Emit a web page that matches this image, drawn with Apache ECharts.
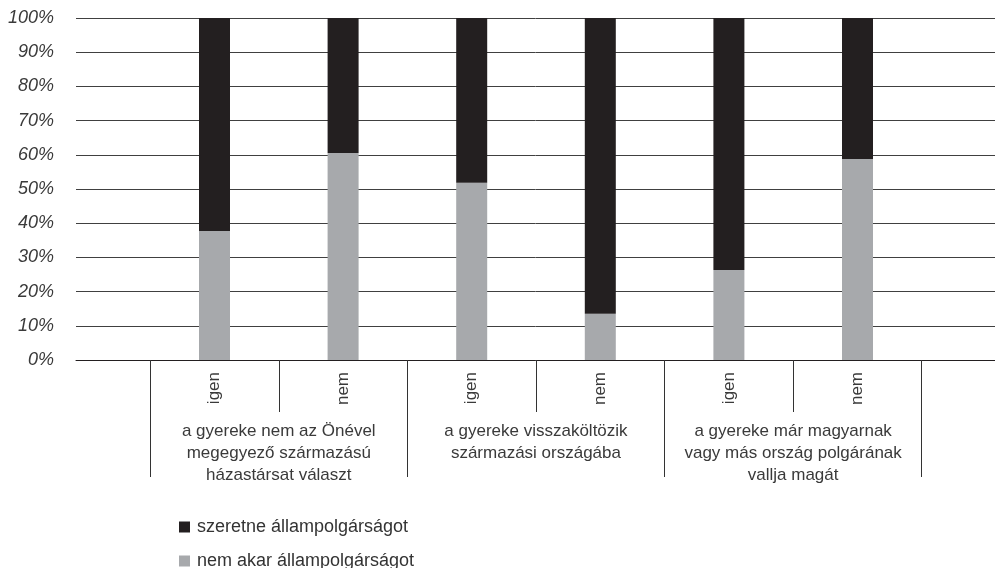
<!DOCTYPE html>
<html>
<head>
<meta charset="utf-8">
<script src="https://cdn.jsdelivr.net/npm/echarts@6/dist/echarts.min.js"></script>
<style>html,body{margin:0;padding:0;background:#fff}#c{width:995px;height:568px}</style>
</head>
<body>
<div id="c"></div>
<script>
// Data
var subCategories = ['igen', 'nem', 'igen', 'nem', 'igen', 'nem'];
var groupLabels = [
  'a gyereke nem az Önével\nmegegyező származású\nházastársat választ',
  'a gyereke visszaköltözik\nszármazási országába',
  'a gyereke már magyarnak\nvagy más ország polgárának\nvallja magát'
];
var seriesNames = ['szeretne állampolgárságot', 'nem akar állampolgárságot'];
var nemAkar = [37.7, 60.5, 51.8, 13.5, 26.3, 58.8];
var szeretne = [62.3, 39.5, 48.2, 86.5, 73.7, 41.2];
var yTicks = [0, 10, 20, 30, 40, 50, 60, 70, 80, 90, 100];

var positions = subCategories.map(function (_, i) { return i + 1; });
var groupCenters = [1.5, 3.5, 5.5];
var groupBounds = [0.5, 2.5, 4.5, 6.5];
var catIds = subCategories.map(function (c, i) { return c + '_' + i; });

var chart = echarts.init(document.getElementById('c'), null, { renderer: 'canvas' });
var font = 'Liberation Sans';
var option = {
  animation: false,
  textStyle: { fontFamily: font },
  grid: [
    { left: 76, right: 0, top: 18, bottom: 208, containLabel: false },
    { left: 150.2, right: 73.2, top: 18, bottom: 208, containLabel: false }
  ],
  legend: {
    orient: 'vertical',
    left: 179,
    top: 518,
    height: 80,
    padding: 0,
    itemWidth: 11,
    itemHeight: 11,
    itemGap: 16,
    icon: 'rect',
    data: [seriesNames[0], seriesNames[1]],
    textStyle: { fontSize: 18, color: '#333', fontFamily: font, padding: [0, 0, 0, 2] }
  },
  xAxis: [
    {
      type: 'value', gridIndex: 0, min: -0.077, max: 7.07, position: 'bottom',
      axisLine: { show: true, lineStyle: { color: '#231f20', width: 1 } },
      axisTick: { show: true, customValues: groupBounds, length: 117, lineStyle: { color: '#333', width: 1 } },
      axisLabel: {
        show: true, customValues: positions, rotate: 90, margin: 12,
        fontSize: 17, color: '#3a3a3a', fontFamily: font,
        formatter: function (v) { return subCategories[Math.round(v) - 1] || ''; }
      },
      splitLine: { show: false }
    },
    {
      type: 'value', gridIndex: 0, min: -0.077, max: 7.07, position: 'bottom',
      axisLine: { show: false },
      axisTick: { show: true, customValues: groupCenters, length: 52, lineStyle: { color: '#333', width: 1 } },
      axisLabel: {
        show: true, customValues: groupCenters, margin: 60, lineHeight: 22,
        fontSize: 17, color: '#3a3a3a', fontFamily: font, align: 'center',
        formatter: function (v) { return groupLabels[Math.round((v - 1.5) / 2)] || ''; }
      },
      splitLine: { show: false }
    },
    {
      type: 'category', gridIndex: 1, data: catIds, boundaryGap: true,
      axisLine: { show: false }, axisTick: { show: false }, axisLabel: { show: false },
      splitLine: { show: false }
    }
  ],
  yAxis: [
    {
      type: 'value', gridIndex: 0, min: yTicks[0], max: yTicks[yTicks.length - 1], interval: 10,
      axisLine: { show: false }, axisTick: { show: false },
      axisLabel: { formatter: '{value}%', fontSize: 18, fontStyle: 'italic', color: '#3a3a3a', margin: 22, fontFamily: font },
      splitLine: { show: true, lineStyle: { color: '#404040', width: 1 } }
    },
    {
      type: 'value', gridIndex: 1, min: yTicks[0], max: yTicks[yTicks.length - 1],
      axisLine: { show: false }, axisTick: { show: false }, axisLabel: { show: false },
      splitLine: { show: false }
    }
  ],
  series: [
    {
      name: seriesNames[1], type: 'bar', stack: 'total', xAxisIndex: 2, yAxisIndex: 1, barWidth: 31,
      itemStyle: { color: '#a7a9ac' },
      data: nemAkar
    },
    {
      name: seriesNames[0], type: 'bar', stack: 'total', xAxisIndex: 2, yAxisIndex: 1, barWidth: 31,
      itemStyle: { color: '#231f20' },
      data: szeretne
    }
  ]
};
chart.setOption(option);
</script>
</body>
</html>
